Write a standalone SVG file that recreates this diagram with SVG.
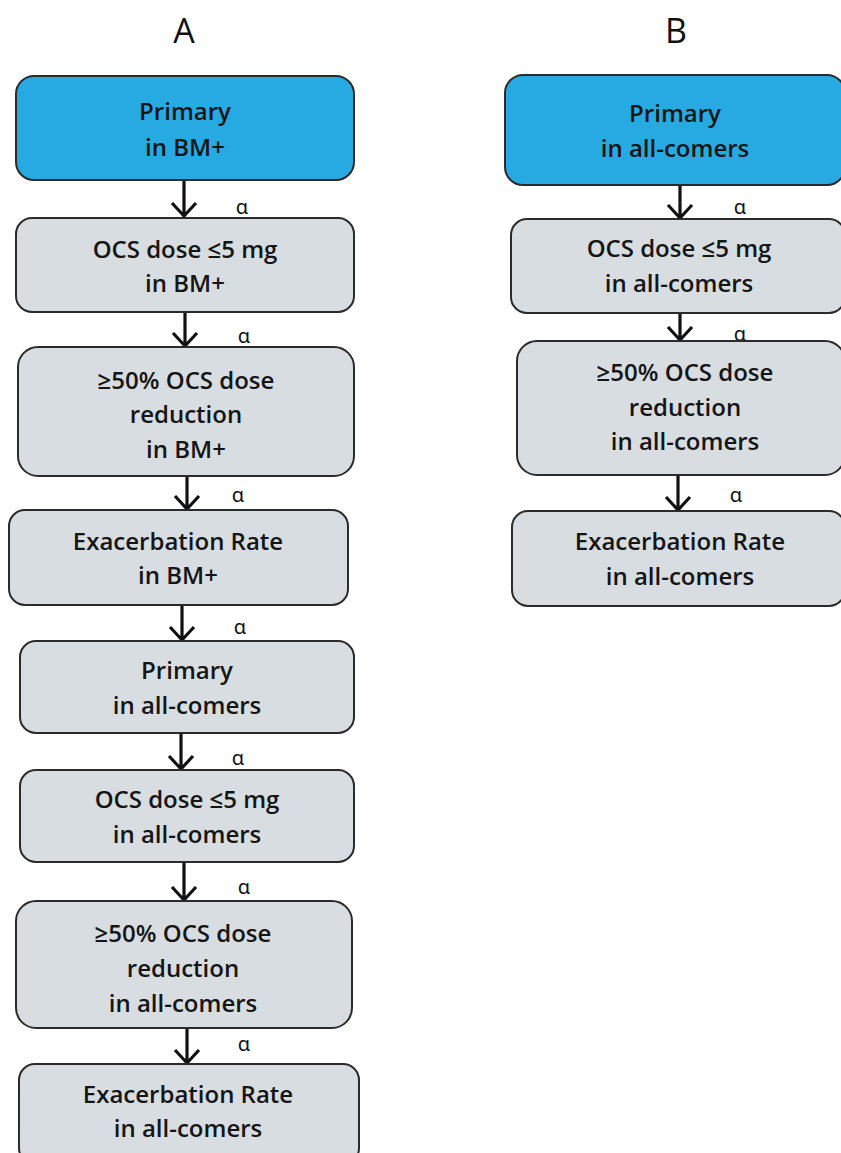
<svg xmlns="http://www.w3.org/2000/svg" width="841" height="1153" viewBox="0 0 841 1153">
<defs>
<style>
.box{fill:#d8dde1;stroke:#2b2b2b;stroke-width:2}
.blue{fill:#27a9e1;stroke:#2b2b2b;stroke-width:2}
.t{font-family:"Open Sans","Liberation Sans",sans-serif;font-size:24px;font-weight:600;fill:#151515;text-anchor:middle}
.h{font-family:"Open Sans","Liberation Sans",sans-serif;font-size:34px;fill:#111;text-anchor:middle}
.a{font-family:"Noto Sans","DejaVu Sans",sans-serif;font-size:20px;fill:#111;text-anchor:middle}
.c{stroke:#111;stroke-width:3.2;fill:none}
</style>
</defs>
<rect width="841" height="1153" fill="#fff"/>
<text class="h" x="184" y="43">A</text>
<text class="h" x="676" y="43">B</text>

<g id="connectors">
<g class="c">
<path d="M184 180V217M172 203L184 216L196 203"/>
<path d="M185 312V346M173 333L185 346L197 333"/>
<path d="M187 476V509M175 496L187 509L199 496"/>
<path d="M182 605V640M170 627L182 640L194 627"/>
<path d="M181 733V769M169 756L181 769L193 756"/>
<path d="M184 862V900M172 887L184 900L196 887"/>
<path d="M187 1028V1063M175 1050L187 1063L199 1050"/>
<path d="M680 185V218M668 205L680 218L692 205"/>
<path d="M680 313V340M668 327L680 340L692 327"/>
<path d="M678 475V510M666 497L678 510L690 497"/>
</g>
<text class="a" x="242" y="214">α</text>
<text class="a" x="244" y="343">α</text>
<text class="a" x="238" y="502">α</text>
<text class="a" x="240" y="634">α</text>
<text class="a" x="238" y="765">α</text>
<text class="a" x="244" y="894">α</text>
<text class="a" x="244" y="1051">α</text>
<text class="a" x="740" y="214">α</text>
<text class="a" x="740" y="341">α</text>
<text class="a" x="736" y="502">α</text>
</g>

<g id="a1"><rect class="blue" x="16" y="76" width="338" height="104" rx="18"/>
<text class="t" x="185" y="120">Primary</text><text class="t" x="185" y="156">in BM+</text></g>
<g id="a2"><rect class="box" x="16" y="218" width="338" height="94" rx="16"/>
<text class="t" x="185" y="258">OCS dose ≤5 mg</text><text class="t" x="185" y="292">in BM+</text></g>
<g id="a3"><rect class="box" x="18" y="347" width="336" height="129" rx="20"/>
<text class="t" x="186" y="389">≥50% OCS dose</text><text class="t" x="186" y="423">reduction</text><text class="t" x="186" y="458">in BM+</text></g>
<g id="a4"><rect class="box" x="9" y="510" width="339" height="95" rx="16"/>
<text class="t" x="178" y="550">Exacerbation Rate</text><text class="t" x="178" y="584">in BM+</text></g>
<g id="a5"><rect class="box" x="20" y="641" width="334" height="92" rx="16"/>
<text class="t" x="187" y="679">Primary</text><text class="t" x="187" y="714">in all-comers</text></g>
<g id="a6"><rect class="box" x="20" y="770" width="334" height="92" rx="16"/>
<text class="t" x="187" y="808">OCS dose ≤5 mg</text><text class="t" x="187" y="843">in all-comers</text></g>
<g id="a7"><rect class="box" x="16" y="901" width="336" height="127" rx="20"/>
<text class="t" x="183" y="942">≥50% OCS dose</text><text class="t" x="183" y="977">reduction</text><text class="t" x="183" y="1012">in all-comers</text></g>
<g id="a8"><rect class="box" x="19" y="1064" width="340" height="100" rx="16"/>
<text class="t" x="188" y="1103">Exacerbation Rate</text><text class="t" x="188" y="1137">in all-comers</text></g>

<g id="b1"><rect class="blue" x="505" y="75" width="340" height="110" rx="18"/>
<text class="t" x="675" y="122">Primary</text><text class="t" x="675" y="157">in all-comers</text></g>
<g id="b2"><rect class="box" x="511" y="219" width="334" height="94" rx="16"/>
<text class="t" x="679" y="257">OCS dose ≤5 mg</text><text class="t" x="679" y="292">in all-comers</text></g>
<g id="b3"><rect class="box" x="517" y="341" width="328" height="134" rx="20"/>
<text class="t" x="685" y="381">≥50% OCS dose</text><text class="t" x="685" y="416">reduction</text><text class="t" x="685" y="450">in all-comers</text></g>
<g id="b4"><rect class="box" x="512" y="511" width="333" height="95" rx="16"/>
<text class="t" x="680" y="550">Exacerbation Rate</text><text class="t" x="680" y="585">in all-comers</text></g>
</svg>
